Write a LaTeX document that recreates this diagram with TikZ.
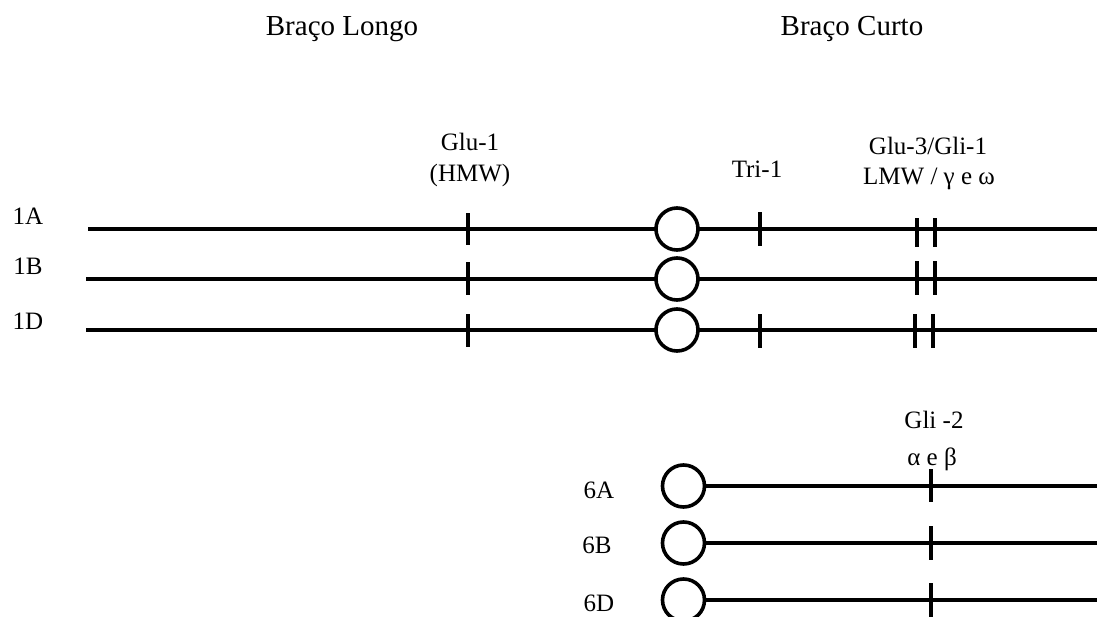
\documentclass[tikz,border=0pt]{standalone}
\usepackage{fontspec}
\setmainfont{Liberation Serif}
\begin{document}
\begin{tikzpicture}[x=0.75pt,y=-0.75pt,
  lbl/.style={font=\fontsize{18.75}{22}\selectfont, inner sep=0pt, anchor=base},
  head/.style={font=\fontsize{21.75}{26}\selectfont, inner sep=0pt, anchor=base},
  chrom/.style={line width=2.7pt},
  tick/.style={line width=2.7pt},
  cen/.style={circle, draw, line width=2.7pt, minimum size=31.5pt, inner sep=0pt, outer sep=0pt}]
\useasboundingbox (0,0) rectangle (1097,617);
\clip (0,0) rectangle (1097,617);

% headings
\node[head] (hL) at (342,36) {Braço Longo};
\node[head] (hC) at (852,36) {Braço Curto};

% locus labels
\node[lbl] (g1a) at (470,151) {Glu-1};
\node[lbl] (g1b) at (470,181) {(HMW)};
\node[lbl] (tri) at (757,177) {Tri-1};
\node[lbl] (g3a) at (928,155) {Glu-3/Gli-1};
\node[lbl] (g3b) at (929,185) {LMW / γ e ω};
\node[lbl] (g2a) at (934,428) {Gli -2};
\node[lbl] (g2b) at (932,465) {α e β};

% chromosome labels
\node[lbl] (l1A) at (28,224) {1A};
\node[lbl] (l1B) at (28,274) {1B};
\node[lbl] (l1D) at (28,329) {1D};
\node[lbl] (l6A) at (599,498) {6A};
\node[lbl] (l6B) at (597,553) {6B};
\node[lbl] (l6D) at (599,611) {6D};

% centromeres
\node[cen] (c1A) at (677,229) {};
\node[cen] (c1B) at (677,279) {};
\node[cen] (c1D) at (677,330) {};
\node[cen] (c6A) at (683.5,486) {};
\node[cen] (c6B) at (683.5,543) {};
\node[cen] (c6D) at (683.5,600) {};

% line ends
\coordinate (s1A) at (88,229);  \coordinate (e1A) at (1100,229);
\coordinate (s1B) at (86,279);  \coordinate (e1B) at (1100,279);
\coordinate (s1D) at (86,330);  \coordinate (e1D) at (1100,330);
\coordinate (e6A) at (1100,486);
\coordinate (e6B) at (1100,543);
\coordinate (e6D) at (1100,600);

% chromosome arms
\draw[chrom] (s1A) -- (c1A.west);  \draw[chrom] (c1A.east) -- (e1A);
\draw[chrom] (s1B) -- (c1B.west);  \draw[chrom] (c1B.east) -- (e1B);
\draw[chrom] (s1D) -- (c1D.west);  \draw[chrom] (c1D.east) -- (e1D);
\draw[chrom] (c6A.east) -- (e6A);
\draw[chrom] (c6B.east) -- (e6B);
\draw[chrom] (c6D.east) -- (e6D);

% ticks: Glu-1
\draw[tick] (468,213) -- (468,245);
\draw[tick] (468,262) -- (468,295);
\draw[tick] (468,314) -- (468,347);
% Tri-1
\draw[tick] (760,212) -- (760,246);
\draw[tick] (760,314) -- (760,348);
% Glu-3/Gli-1
\draw[tick] (917,218) -- (917,247);
\draw[tick] (935,218) -- (935,247);
\draw[tick] (917,261) -- (917,295);
\draw[tick] (935,261) -- (935,295);
\draw[tick] (915,314) -- (915,348);
\draw[tick] (933,314) -- (933,348);
% Gli-2
\draw[tick] (931,469) -- (931,502);
\draw[tick] (931,526) -- (931,560);
\draw[tick] (931,583) -- (931,617);
\end{tikzpicture}
\end{document}
